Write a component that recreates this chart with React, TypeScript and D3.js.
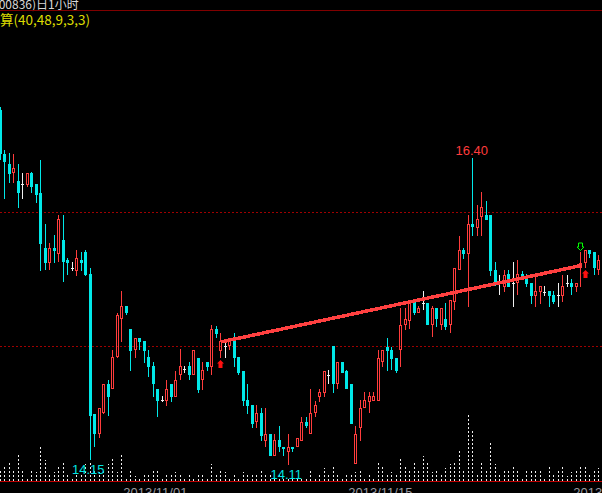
// App.tsx - hourly candlestick chart (dark terminal style)
import React, { useEffect, useRef } from 'react';
import * as d3 from 'd3';

// OHLC per hourly bar
const openPrices = [
  16.76, 16.43, 16.36, 16.29, 16.23, 16.21, 16.20, 16.29, 16.21, 16.14,
  15.73, 15.62, 15.73, 15.69, 15.79, 15.64, 15.58, 15.56, 15.64, 15.70,
  15.54, 14.49, 14.34, 14.50, 14.72, 14.68, 14.92, 15.20, 15.30, 15.13,
  14.97, 15.06, 15.04, 14.92, 14.85, 14.68, 14.60, 14.59, 14.72, 14.62,
  14.78, 14.83, 14.85, 14.78, 14.91, 14.75, 14.88, 14.84, 15.13, 14.96,
  15.00, 15.00, 15.06, 14.92, 14.81, 14.60, 14.56, 14.43, 14.50, 14.29,
  14.34, 14.18, 14.30, 14.25, 14.21, 14.25, 14.25, 14.29, 14.43, 14.34,
  14.50, 14.62, 14.65, 14.78, 15.00, 14.72, 14.88, 14.81, 14.72, 14.12,
  14.39, 14.54, 14.58, 14.59, 14.59, 14.88, 14.99, 14.97, 14.91, 14.97,
  15.16, 15.19, 15.34, 15.25, 15.32, 15.32, 15.16, 15.28, 15.16, 15.20,
  15.16, 15.33, 15.57, 15.72, 15.69, 15.91, 15.88, 15.96, 15.98, 15.98,
  15.57, 15.47, 15.44, 15.54, 15.47, 15.47, 15.54, 15.51, 15.47, 15.37,
  15.40, 15.40, 15.41, 15.38, 15.38, 15.37, 15.47, 15.47, 15.44, 15.58,
  15.62, 15.72, 15.70, 15.57,
];
const highPrices = [
  16.78, 16.46, 16.44, 16.43, 16.36, 16.29, 16.29, 16.30, 16.21, 16.39,
  15.91, 15.77, 15.83, 15.98, 15.98, 15.66, 15.63, 15.72, 15.70, 15.72,
  15.58, 14.49, 14.54, 14.72, 14.75, 14.97, 15.25, 15.41, 15.30, 15.13,
  15.06, 15.06, 15.04, 14.97, 14.88, 14.68, 14.63, 14.75, 14.72, 14.81,
  14.98, 14.85, 14.88, 14.97, 14.91, 14.88, 14.88, 15.16, 15.15, 15.10,
  15.04, 15.06, 15.10, 14.92, 14.81, 14.72, 14.56, 14.56, 14.54, 14.54,
  14.34, 14.34, 14.40, 14.25, 14.34, 14.25, 14.31, 14.47, 14.47, 14.68,
  14.59, 14.68, 14.81, 14.82, 15.00, 14.88, 14.88, 14.82, 14.72, 14.40,
  14.60, 14.66, 14.66, 14.66, 14.97, 14.97, 15.06, 14.99, 14.91, 15.28,
  15.28, 15.32, 15.34, 15.30, 15.41, 15.32, 15.30, 15.28, 15.28, 15.32,
  15.34, 15.58, 15.82, 15.73, 15.98, 16.40, 16.05, 16.15, 16.08, 15.98,
  15.63, 15.53, 15.57, 15.57, 15.63, 15.64, 15.56, 15.54, 15.47, 15.52,
  15.45, 15.45, 15.41, 15.41, 15.47, 15.53, 15.53, 15.50, 15.47, 15.70,
  15.72, 15.72, 15.70, 15.68,
];
const lowPrices = [
  16.39, 16.10, 16.22, 16.22, 16.03, 16.10, 16.19, 16.14, 16.07, 15.56,
  15.57, 15.57, 15.62, 15.63, 15.48, 15.53, 15.56, 15.52, 15.56, 15.52,
  14.15, 14.25, 14.31, 14.49, 14.48, 14.68, 14.91, 15.03, 15.23, 14.81,
  14.91, 14.97, 14.87, 14.77, 14.62, 14.47, 14.58, 14.55, 14.58, 14.62,
  14.75, 14.80, 14.75, 14.78, 14.65, 14.67, 14.81, 14.78, 15.06, 14.91,
  14.91, 14.97, 14.84, 14.78, 14.55, 14.49, 14.39, 14.39, 14.29, 14.25,
  14.18, 14.18, 14.21, 14.18, 14.11, 14.21, 14.25, 14.29, 14.39, 14.34,
  14.47, 14.58, 14.62, 14.72, 14.65, 14.68, 14.80, 14.68, 14.42, 14.12,
  14.29, 14.54, 14.50, 14.59, 14.59, 14.84, 14.81, 14.82, 14.80, 14.84,
  15.12, 15.13, 15.23, 15.25, 15.27, 15.16, 15.07, 15.14, 15.12, 15.12,
  15.10, 15.27, 15.57, 15.65, 15.29, 15.82, 15.82, 15.82, 15.94, 15.52,
  15.45, 15.38, 15.40, 15.44, 15.29, 15.38, 15.49, 15.44, 15.31, 15.29,
  15.31, 15.37, 15.29, 15.31, 15.29, 15.33, 15.44, 15.38, 15.40, 15.44,
  15.58, 15.66, 15.53, 15.53,
];
const closePrices = [
  16.43, 16.37, 16.28, 16.33, 16.14, 16.21, 16.29, 16.19, 16.13, 15.76,
  15.62, 15.73, 15.71, 15.95, 15.63, 15.62, 15.58, 15.66, 15.62, 15.53,
  14.48, 14.34, 14.54, 14.72, 14.62, 14.92, 15.23, 15.30, 15.25, 14.96,
  15.06, 15.03, 14.96, 14.84, 14.72, 14.59, 14.60, 14.68, 14.62, 14.75,
  14.85, 14.83, 14.78, 14.97, 14.67, 14.82, 14.84, 15.13, 15.09, 15.04,
  15.00, 15.06, 14.91, 14.80, 14.59, 14.55, 14.42, 14.50, 14.33, 14.34,
  14.18, 14.30, 14.25, 14.23, 14.25, 14.23, 14.31, 14.43, 14.40, 14.50,
  14.56, 14.66, 14.81, 14.78, 14.72, 14.88, 14.80, 14.68, 14.42, 14.34,
  14.54, 14.60, 14.63, 14.63, 14.91, 14.97, 14.96, 14.90, 14.81, 15.16,
  15.20, 15.32, 15.25, 15.28, 15.32, 15.16, 15.28, 15.20, 15.28, 15.14,
  15.34, 15.58, 15.72, 15.69, 15.91, 15.89, 15.95, 16.04, 15.94, 15.56,
  15.48, 15.47, 15.53, 15.44, 15.47, 15.54, 15.51, 15.46, 15.37, 15.41,
  15.45, 15.40, 15.37, 15.33, 15.38, 15.45, 15.47, 15.44, 15.47, 15.62,
  15.72, 15.69, 15.58, 15.64,
];
// volume (hundreds of lots)
const volumes = [
  1200, 1600, 2000, 1200, 2800, 1100, 500, 1100, 1000, 3700,
  2200, 800, 1000, 1500, 2100, 800, 400, 700, 800, 1800,
  1900, 1200, 1000, 1200, 1800, 2500, 1000, 2700, 500, 1100,
  600, 400, 900, 800, 1200, 1200, 500, 700, 700, 1000,
  900, 500, 800, 500, 900, 800, 500, 1800, 800, 1300,
  1000, 500, 900, 500, 1000, 700, 700, 900, 1100, 800,
  800, 300, 700, 400, 400, 500, 400, 500, 300, 1100,
  500, 800, 1400, 800, 1700, 800, 500, 800, 900, 1000,
  1200, 500, 900, 500, 1900, 1500, 800, 1000, 800, 2500,
  1500, 1100, 1900, 1200, 2600, 1900, 1000, 1200, 900, 1400,
  1800, 1900, 3300, 1200, 6700, 5300, 900, 1900, 1200, 4100,
  1800, 800, 1200, 1100, 1600, 1100, 500, 1300, 1100, 1200,
  1100, 500, 1500, 800, 1100, 1600, 600, 1000, 1100, 1700,
  1500, 700, 1100, 1400,
];

const dateLabels = ['2013/11/01', '2013/11/15', '2013'];
const dateLabelIdx = [27, 77, 127];
const refLevels = [16.0, 15.0];
const trendIdx = [49, 129];
const trendVal = [15.03, 15.6];
const buyIdx = [49, 130];
const sellIdx = [129];
const peakIdx = [105];
const peakText = ['16.40'];
const troughIdx = [20, 64];
const troughText = ['14.15', '14.11'];
const titleText = '600836)日1小时';
const indicatorText = '算(40,48,9,3,3)';

const W = 602, H = 493;
const UP = '#ff3c3c', DOWN = '#00e8e8', FLAT = '#f0f0f0';

const App = () => {
  const ref = useRef<SVGSVGElement>(null);

  useEffect(() => {
    if (!ref.current) return;
    const svg = d3.select(ref.current);
    svg.selectAll('*').remove();

    const n = openPrices.length;
    const x = d3.scaleLinear().domain([0, n - 1]).range([0.3, 0.3 + 4.5 * (n - 1)]);
    const y = d3.scaleLinear().domain([15, 16]).range([346, 212]);
    const yVol = d3.scaleLinear().domain([0, 7000]).range([482, 412]);
    const px = (i: number) => Math.floor(x(i)) + 0.5;
    const py = (p: number) => Math.round(y(p));

    svg.append('rect').attr('width', W).attr('height', H).attr('fill', '#000');

    // header (top of the title is clipped by the window edge)
    svg.append('text').attr('x', -8).attr('y', 8.5)
      .attr('font-family', '"Noto Sans CJK SC", sans-serif').attr('font-size', 12)
      .attr('fill', '#d8d8d8').text(titleText);
    svg.append('line').attr('x1', 0).attr('x2', W).attr('y1', 10.5).attr('y2', 10.5)
      .attr('stroke', '#800000');
    svg.append('text').attr('x', 0).attr('y', 24.5)
      .attr('font-family', '"Noto Sans CJK SC", sans-serif').attr('font-size', 13.5)
      .attr('fill', '#dcdc00').text(indicatorText);

    // reference dashed levels
    svg.selectAll('line.ref').data(refLevels).join('line')
      .attr('x1', 0).attr('x2', W)
      .attr('y1', d => py(d) + 0.5).attr('y2', d => py(d) + 0.5)
      .attr('stroke', '#a00000').attr('stroke-dasharray', '2 2')
      .attr('shape-rendering', 'crispEdges');

    // volume bars
    svg.append('g').selectAll('line').data(volumes).join('line')
      .attr('x1', (_, i) => px(i)).attr('x2', (_, i) => px(i))
      .attr('y1', 481).attr('y2', d => yVol(d))
      .attr('stroke', '#eeeeee').attr('stroke-dasharray', '2 2')
      .attr('shape-rendering', 'crispEdges');

    svg.append('line').attr('x1', 0).attr('x2', W).attr('y1', 481.5).attr('y2', 481.5)
      .attr('stroke', '#c00000');

    // candles
    const g = svg.append('g').attr('shape-rendering', 'crispEdges');
    d3.range(n).forEach(i => {
      const o = openPrices[i], c = closePrices[i], hi = highPrices[i], lo = lowPrices[i];
      const cx = px(i);
      const top = py(Math.max(o, c)), bot = py(Math.min(o, c));
      if (c > o) {
        g.append('line').attr('x1', cx).attr('x2', cx).attr('y1', py(hi)).attr('y2', top)
          .attr('stroke', UP);
        g.append('line').attr('x1', cx).attr('x2', cx).attr('y1', bot).attr('y2', py(lo))
          .attr('stroke', UP);
        g.append('rect').attr('x', cx - 1).attr('y', top + 0.5)
          .attr('width', 2).attr('height', Math.max(1, bot - top - 1))
          .attr('fill', 'none').attr('stroke', UP);
      } else if (c < o) {
        g.append('line').attr('x1', cx).attr('x2', cx).attr('y1', py(hi)).attr('y2', py(lo))
          .attr('stroke', DOWN);
        g.append('rect').attr('x', cx - 1.5).attr('y', top)
          .attr('width', 3).attr('height', Math.max(1, bot - top))
          .attr('fill', DOWN);
      } else {
        g.append('line').attr('x1', cx).attr('x2', cx).attr('y1', py(hi)).attr('y2', py(lo))
          .attr('stroke', FLAT);
        g.append('line').attr('x1', cx - 1.5).attr('x2', cx + 1.5)
          .attr('y1', top + 0.5).attr('y2', top + 0.5).attr('stroke', FLAT);
      }
    });

    // trend line
    const line = d3.line<number>().x(i => x(trendIdx[i])).y(i => y(trendVal[i]));
    svg.append('path').attr('d', line([0, 1]))
      .attr('stroke', '#ff4040').attr('stroke-width', 3.5).attr('fill', 'none')
      .attr('shape-rendering', 'crispEdges');

    // buy / sell signals
    buyIdx.forEach(i => {
      const cx = px(i), t = py(lowPrices[i]) + 2;
      svg.append('path')
        .attr('d', `M${cx},${t} L${cx + 3.5},${t + 3.5} L${cx + 2},${t + 3.5} L${cx + 2},${t + 8} L${cx - 2},${t + 8} L${cx - 2},${t + 3.5} L${cx - 3.5},${t + 3.5} Z`)
        .attr('fill', '#ff1010');
    });
    sellIdx.forEach(i => {
      const cx = px(i), t = py(highPrices[i]) - 9;
      svg.append('path')
        .attr('d', `M${cx - 2},${t} L${cx + 2},${t} L${cx + 2},${t + 4} L${cx + 3.5},${t + 4} L${cx},${t + 7.5} L${cx - 3.5},${t + 4} L${cx - 2},${t + 4} Z`)
        .attr('fill', 'none').attr('stroke', '#00ff00');
    });

    // extreme labels
    const font = '"Liberation Sans", Arial, sans-serif';
    peakIdx.forEach((idx, k) => {
      svg.append('text').attr('x', x(idx) - 1).attr('y', y(highPrices[idx]) - 3)
        .attr('text-anchor', 'middle').attr('font-family', font)
        .attr('font-size', 13).attr('fill', '#ff3c3c').text(peakText[k]);
    });
    troughIdx.forEach((idx, k) => {
      svg.append('text').attr('x', x(idx) - 2).attr('y', y(lowPrices[idx]) + 14)
        .attr('text-anchor', 'middle').attr('font-family', font)
        .attr('font-size', 13).attr('fill', '#00e4e4').text(troughText[k]);
    });

    // date axis
    svg.selectAll('text.date').data(dateLabels).join('text')
      .attr('x', (_, k) => x(dateLabelIdx[k]) + 1.5).attr('y', 497)
      .attr('font-family', font).attr('font-size', 13)
      .attr('fill', '#9a9aa2').text(d => d);
  }, []);

  return (
    <svg ref={ref} width={W} height={H}
      style={{ position: 'absolute', left: 0, top: 0, background: '#000' }} />
  );
};

export default App;
